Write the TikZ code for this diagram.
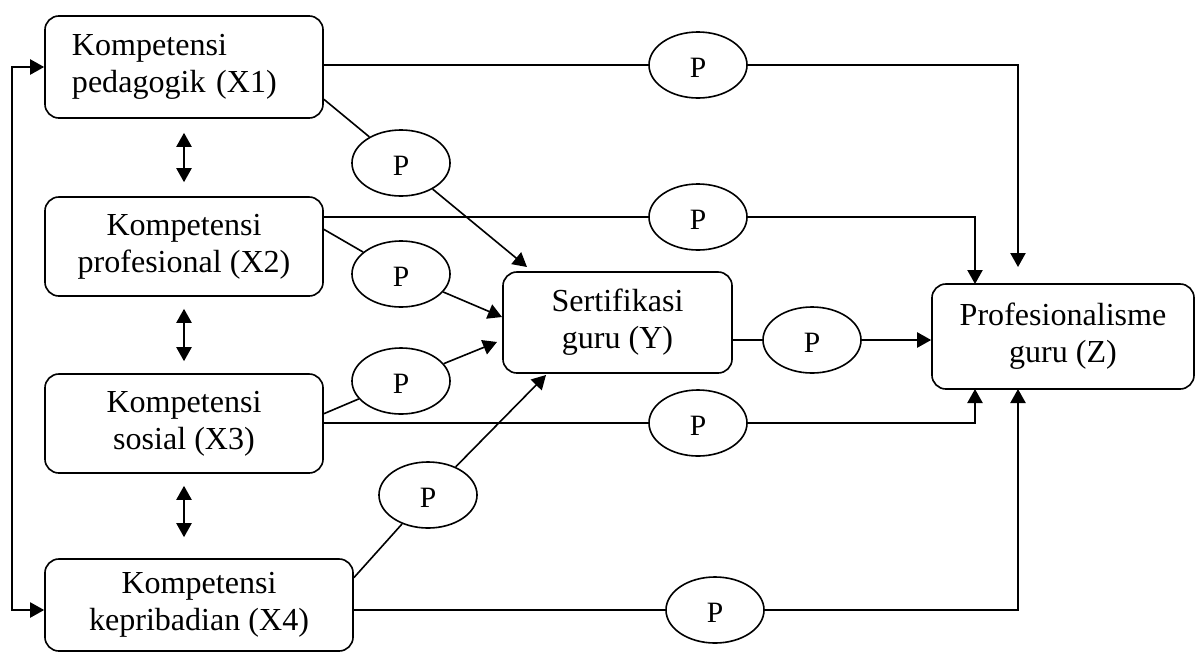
\documentclass[tikz,border=0pt]{standalone}
\usepackage{fontspec}
\setmainfont{Liberation Serif}
\usetikzlibrary{arrows.meta,shapes.geometric}
\tikzset{
  var/.style={draw, rounded corners=0.35cm, align=center, inner sep=0pt,
    font=\fontsize{22.8}{26.5}\selectfont},
  pcoef/.style={draw, ellipse, minimum width=2.45cm, minimum height=1.65cm,
    inner sep=0pt, text height=0.64cm, text depth=0pt,
    font=\fontsize{21}{23}\selectfont},
}
\begin{document}
\begin{tikzpicture}[x=0.025cm, y=-0.025cm, line width=1.15pt,
  >={Triangle[length=0.35cm, width=0.38cm]}]
\useasboundingbox (0,0) rectangle (1195,652);
% variables
\node[var, minimum width=6.95cm, minimum height=2.55cm, text width=5.6cm, inner xsep=0.675cm, align=left] (X1) at (184,67) {Kompetensi\\pedagogik (X1)};
\node[var, minimum width=6.95cm, minimum height=2.475cm] (X2) at (184,246.5) {Kompetensi\\profesional (X2)};
\node[var, minimum width=6.95cm, minimum height=2.475cm] (X3) at (184,423.5) {Kompetensi\\sosial (X3)};
\node[var, minimum width=7.7cm, minimum height=2.3cm] (X4) at (199,605) {Kompetensi\\kepribadian (X4)};
\node[var, minimum width=5.725cm, minimum height=2.525cm] (Y) at (617.5,322.5) {Sertifikasi\\guru (Y)};
\node[var, minimum width=6.55cm, minimum height=2.625cm] (Z) at (1063,336.5) {Profesionalisme\\guru (Z)};
% path coefficients
\node[pcoef] (p1) at (698,65) {P};
\node[pcoef] (p2) at (401,163) {P};
\node[pcoef] (p3) at (698,217) {P};
\node[pcoef] (p4) at (401,274) {P};
\node[pcoef] (p5) at (401,381) {P};
\node[pcoef] (p6) at (698,423) {P};
\node[pcoef] (p7) at (428,495) {P};
\node[pcoef] (p8) at (715,610) {P};
\node[pcoef] (p9) at (812,340) {P};
% arrow ends
\coordinate (y1) at (527,267);
\coordinate (y2) at (502,317);
\coordinate (y3) at (497,342);
\coordinate (y4) at (546,375);
\coordinate (z1) at (1018,267);
\coordinate (z2) at (975,284);
\coordinate (z3) at (975,389);
\coordinate (z4) at (1018,389);
\coordinate (lft) at (12,610);
% direct paths to Z
\draw (X1.east |- p1.west) -- (p1.west);
\draw[->] (p1.east) -| (z1);
\draw (X2.east |- p3.west) -- (p3.west);
\draw[->] (p3.east) -| (z2);
\draw (X3.east |- p6.west) -- (p6.west);
\draw[->] (p6.east) -| (z3);
\draw (X4.east |- p8.west) -- (p8.west);
\draw[->] (p8.east) -| (z4);
% paths to Y
\draw (X1.-13) -- (p2);
\draw[->] (p2) -- (y1);
\draw (X2.7) -- (p4);
\draw[->] (p4) -- (y2);
\draw (X3.4) -- (p5);
\draw[->] (p5) -- (y3);
\draw (X4.10) -- (p7);
\draw[->] (p7) -- (y4);
\draw (Y.east |- p9.west) -- (p9.west);
\draw[->] (p9.east) -- (Z.west |- p9.east);
% correlations
\draw[<->] (X1.west) -| (lft) -- (X4.west |- lft);
\draw[<->, shorten <=0.35cm, shorten >=0.35cm] (X1.south) -- (X2.north);
\draw[<->, shorten <=0.3cm, shorten >=0.3cm] (X2.south) -- (X3.north);
\draw[<->, shorten <=0.3cm, shorten >=0.525cm] (X3.south) -- (X3.south |- X4.north);
\end{tikzpicture}
\end{document}
